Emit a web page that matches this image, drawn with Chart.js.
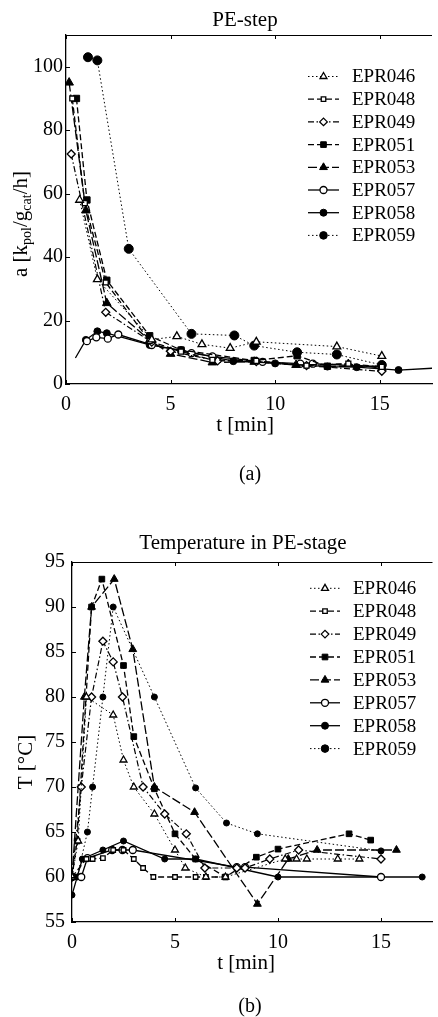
<!DOCTYPE html>
<html><head><meta charset="utf-8">
<script src="https://cdn.jsdelivr.net/npm/chart.js@4"></script>
<style>
html,body{margin:0;padding:0;background:#fff;overflow:hidden;width:438px;height:1017px}
.box{position:absolute;left:0;width:438px}
</style></head><body>
<div class="box" style="top:0;height:495px"><canvas id="ca"></canvas></div>
<div class="box" style="top:495px;height:522px"><canvas id="cb"></canvas></div>
<script>
// ---------- DATA ----------
const seriesNames = ['EPR046','EPR048','EPR049','EPR051','EPR053','EPR057','EPR058','EPR059'];
const xTicksMin = 0, xTicksMax = 17.5, xStep = 5;

// (a) PE-step: a [kpol/gcat/h] vs t [min]
const a046_t = [0.65, 1.5, 4.1, 5.3, 6.5, 7.85, 9.1, 12.95, 15.1];
const a046_v = [58, 33, 14, 15, 12.5, 11.3, 13.3, 11.8, 8.8];
const a048_t = [0.3, 0.9, 1.9, 4.0, 5.5, 7.0, 9.1, 11.5, 13.5, 15.1];
const a048_v = [90, 57, 32, 13.5, 10.2, 7.6, 7.3, 5.8, 6.4, 5.4];
const a049_t = [0.25, 1.9, 4.1, 5.0, 7.25, 9.1, 11.5, 15.1];
const a049_v = [72.5, 22.6, 13.2, 10.3, 7.3, 7.1, 5.8, 4.0];
const a051_t = [0.5, 1.0, 1.95, 4.0, 5.5, 9.0, 11.05, 12.5, 15.1];
const a051_v = [90, 58, 32.7, 15.2, 10.7, 7.4, 8.9, 5.6, 5.6];
const a053_t = [0.15, 0.95, 1.95, 4.0, 5.0, 7.0, 9.0, 11.0, 13.5, 15.1];
const a053_v = [95, 54.7, 25.5, 13.8, 9.5, 6.8, 7.0, 6.0, 6.3, 5.0];
const a057_t = [1.0, 1.45, 2.0, 2.5, 4.1, 6.0, 7.0, 9.4, 11.2, 11.8, 15.1];
const a057_v = [13.5, 14.7, 14.3, 15.6, 12.3, 9.7, 8.7, 7.0, 6.4, 6.4, 5.3];
const a058_t = [0.45, 0.95, 1.5, 1.95, 4.0, 5.5, 8.0, 10.0, 12.5, 13.9, 15.9, 17.6];
const a058_v = [8.2, 13.9, 16.6, 16.0, 12.3, 10.7, 7.2, 6.5, 5.5, 5.3, 4.4, 5.0];
const a059_t = [1.05, 1.5, 3.0, 6.0, 8.05, 9.0, 11.05, 12.95, 15.1];
const a059_v = [103, 102, 42.6, 15.8, 15.3, 12.1, 10.0, 9.3, 6.0];
const aYMin = 0, aYMax = 110, aYStep = 20;

// (b) Temperature in PE-stage: T [°C] vs t [min]
const b046_t = [0, 0.3, 0.7, 2.0, 2.5, 3.0, 4.0, 5.0, 5.5, 6.5, 7.45, 10.35, 10.9, 11.4, 12.9, 13.95];
const b046_v = [60, 64, 80, 78, 73, 70, 67, 63, 61, 60, 60, 62, 62, 62, 62, 62];
const b048_t = [0, 0.7, 1.0, 1.5, 2.0, 2.5, 3.0, 3.45, 3.95, 5.0, 6.0, 6.5, 7.45];
const b048_v = [60, 62, 62, 62.1, 63, 63, 62, 61, 60, 60, 60, 60, 60];
const b049_t = [0, 0.45, 0.95, 1.5, 2.0, 2.45, 3.45, 4.5, 5.55, 6.45, 8.0, 8.4, 9.6, 11.0, 15.0];
const b049_v = [60, 70, 80, 86.2, 83.9, 80, 70, 67, 64.8, 61, 61, 61, 62, 63, 62];
const b051_t = [0, 0.25, 0.95, 1.45, 2.5, 3.0, 4.0, 5.0, 6.0, 7.45, 8.95, 10.0, 13.45, 14.5];
const b051_v = [60, 64, 90, 93.1, 83.5, 75.6, 69.8, 64.8, 62, 60, 62.2, 63.1, 64.8, 64.1];
const b053_t = [0, 0.6, 0.95, 2.05, 2.95, 4.0, 5.95, 9.0, 10.5, 11.9, 15.75];
const b053_v = [60, 80, 90, 93.1, 85.3, 70, 67.2, 57, 62, 63, 63];
const b057_t = [0, 0.45, 0.75, 1.95, 2.45, 2.95, 8.0, 8.4, 15.0];
const b057_v = [60, 60, 62.1, 63, 63, 63, 61.1, 61.1, 60];
const b058_t = [0, 0.5, 1.5, 2.5, 4.5, 6.0, 10.0, 17.0];
const b058_v = [58, 62, 63, 64, 62, 62, 60, 60];
const b059_t = [0, 0.25, 0.75, 1.0, 1.5, 2.0, 4.0, 6.0, 7.5, 9.0, 15.0];
const b059_v = [60, 60, 65, 70, 80, 90, 80, 69.9, 66, 64.8, 62.9];
const bYMin = 55, bYMax = 95, bYStep = 5;

// ---------- STYLES ----------
const styles = {
  EPR046:{borderDash:[1.5,2.5], borderWidth:1, pointStyle:'triangle', pointRadius:4.5, pointBackgroundColor:'#fff', pointBorderWidth:1.3},
  EPR048:{borderDash:[6,3], borderWidth:1.3, pointStyle:'rect', pointRadius:3.5, pointBackgroundColor:'#fff', pointBorderWidth:1.3},
  EPR049:{borderDash:[6,2.5,1.5,2.5], borderWidth:1.2, pointStyle:'rectRot', pointRadius:4, pointBackgroundColor:'#fff', pointBorderWidth:1.3},
  EPR051:{borderDash:[6,3], borderWidth:1.3, pointStyle:'rect', pointRadius:4.5, pointBackgroundColor:'#000', pointBorderWidth:1},
  EPR053:{borderDash:[9,3], borderWidth:1.3, pointStyle:'triangle', pointRadius:5, pointBackgroundColor:'#000', pointBorderWidth:1},
  EPR057:{borderDash:[], borderWidth:1.3, pointStyle:'circle', pointRadius:3.5, pointBackgroundColor:'#fff', pointBorderWidth:1.3},
  EPR058:{borderDash:[], borderWidth:1.3, pointStyle:'circle', pointRadius:3.5, pointBackgroundColor:'#000', pointBorderWidth:1},
  EPR059:{borderDash:[1.5,2.5], borderWidth:1, pointStyle:'circle', pointRadius:4.5, pointBackgroundColor:'#000', pointBorderWidth:1}
};
const legendRadius = {EPR046:4, EPR048:3.2, EPR049:3.8, EPR051:4, EPR053:4.5, EPR057:3.5, EPR058:3.5, EPR059:3.8};
const FONT = 'Liberation Serif, Times New Roman, serif';

function ds(label, ts, vs, extra){
  return Object.assign({label, data: ts.map((t,i)=>({x:t, y:vs[i]})), showLine:true, tension:0,
    borderColor:'#000', pointBorderColor:'#000', fill:false}, styles[label], extra||{});
}

function decoPlugin(cfg){
  return {
    id:'deco',
    afterDraw(chart){
      const ctx = chart.ctx, ca = chart.chartArea, xs = chart.scales.x, ys = chart.scales.y;
      ctx.save();
      ctx.strokeStyle = '#000'; ctx.lineWidth = 1.2; ctx.setLineDash([]);
      ctx.beginPath(); ctx.moveTo(ca.left, ca.top + 0.5); ctx.lineTo(ca.right, ca.top + 0.5); ctx.stroke();
      ctx.lineWidth = 1;
      xs.ticks.forEach(t => {
        const x = Math.round(xs.getPixelForValue(t.value)) + 0.5;
        ctx.beginPath(); ctx.moveTo(x, ca.bottom); ctx.lineTo(x, ca.bottom - 4);
        ctx.moveTo(x, ca.top); ctx.lineTo(x, ca.top + 4); ctx.stroke();
      });
      ys.ticks.forEach(t => {
        const y = Math.round(ys.getPixelForValue(t.value)) + 0.5;
        ctx.beginPath(); ctx.moveTo(ca.left, y); ctx.lineTo(ca.left + 4, y); ctx.stroke();
      });
      ctx.fillStyle = '#000'; ctx.textAlign = 'center'; ctx.textBaseline = 'middle';
      ctx.font = '21px ' + FONT;
      ctx.fillText(cfg.title, cfg.titleX, cfg.titleY);
      ctx.fillText('t [min]', cfg.xtX, cfg.xtY);
      ctx.font = '20px ' + FONT;
      ctx.fillText(cfg.panel, cfg.panelX, cfg.panelY);
      // y title with subscripts, rotated
      ctx.save();
      ctx.translate(cfg.ytX, cfg.ytY);
      ctx.rotate(-Math.PI/2);
      ctx.textAlign = 'left'; ctx.textBaseline = 'alphabetic';
      let w = 0;
      cfg.ytParts.forEach(p => { ctx.font = (p.sub ? '14px ' : '21px ') + FONT; w += ctx.measureText(p.s).width; });
      let x = -w/2;
      cfg.ytParts.forEach(p => {
        ctx.font = (p.sub ? '14px ' : '21px ') + FONT;
        ctx.fillText(p.s, x, p.sub ? 11 : 7);
        x += ctx.measureText(p.s).width;
      });
      ctx.restore();
      // legend
      chart.data.datasets.forEach((d, i) => {
        const y = cfg.legY + i * cfg.legDy;
        const st = styles[d.label];
        ctx.save();
        ctx.strokeStyle = '#000'; ctx.lineWidth = st.borderWidth; ctx.setLineDash(st.borderDash || []);
        ctx.beginPath(); ctx.moveTo(cfg.legX1, y); ctx.lineTo(cfg.legX2, y); ctx.stroke();
        ctx.setLineDash([]);
        ctx.fillStyle = st.pointBackgroundColor; ctx.strokeStyle = '#000';
        ctx.lineWidth = st.pointBorderWidth || 1;
        Chart.helpers.drawPoint(ctx, {pointStyle:st.pointStyle, radius:legendRadius[d.label], rotation:0, borderWidth:st.pointBorderWidth||1}, (cfg.legX1 + cfg.legX2)/2, y);
        ctx.restore();
        ctx.fillStyle = '#000'; ctx.font = '19px ' + FONT; ctx.textAlign = 'left'; ctx.textBaseline = 'middle';
        ctx.fillText(d.label, cfg.legTX, y + 1);
      });
      ctx.restore();
    }
  };
}

function makeChart(id, datasets, cfg){
  const tickFont = {family:FONT, size:20};
  return new Chart(document.getElementById(id), {
    type:'scatter',
    data:{datasets},
    options:{
      responsive:true, maintainAspectRatio:false, animation:false,
      layout:{padding:{top:cfg.top, right:0, left:0, bottom:0}},
      plugins:{legend:{display:false}, tooltip:{enabled:false}, title:{display:false}},
      scales:{
        x:{type:'linear', min:xTicksMin, max:xTicksMax,
           afterFit:s => { s.height = cfg.xh; },
           ticks:{stepSize:xStep, includeBounds:false, padding:cfg.xpad, color:'#000', font:tickFont, maxRotation:0, autoSkip:false},
           grid:{display:true, drawOnChartArea:false, drawTicks:false},
           border:{color:'#000', width:1.3}},
        y:{type:'linear', min:cfg.ymin, max:cfg.ymax,
           afterFit:s => { s.width = cfg.yw; },
           ticks:{stepSize:cfg.ystep, includeBounds:false, padding:cfg.ypad, color:'#000', font:tickFont, autoSkip:false},
           grid:{display:true, drawOnChartArea:false, drawTicks:false},
           border:{color:'#000', width:1.3}}
      }
    },
    plugins:[decoPlugin(cfg.deco)]
  });
}

const dsA = [
  ds('EPR046', a046_t, a046_v),
  ds('EPR048', a048_t, a048_v),
  ds('EPR049', a049_t, a049_v),
  ds('EPR051', a051_t, a051_v),
  ds('EPR053', a053_t, a053_v),
  ds('EPR057', a057_t, a057_v),
  ds('EPR058', a058_t, a058_v, {pointRadius: c => (c.dataIndex === 0 || c.dataIndex === a058_t.length - 1) ? 0 : 3.5}),
  ds('EPR059', a059_t, a059_v)
];
const dsB = [
  ds('EPR046', b046_t, b046_v, {pointRadius:4}),
  ds('EPR048', b048_t, b048_v, {pointRadius:3.2}),
  ds('EPR049', b049_t, b049_v),
  ds('EPR051', b051_t, b051_v, {pointRadius:4}),
  ds('EPR053', b053_t, b053_v, {pointRadius:4.5}),
  ds('EPR057', b057_t, b057_v),
  ds('EPR058', b058_t, b058_v, {pointRadius:3}),
  ds('EPR059', b059_t, b059_v, {pointRadius:3})
];

makeChart('ca', dsA, {top:35, xh:111, xpad:9, yw:66, ypad:3, ymin:aYMin, ymax:aYMax, ystep:aYStep,
  deco:{title:'PE-step', titleX:245, titleY:20, xtX:245, xtY:425, panel:'(a)', panelX:250, panelY:475,
        ytX:20, ytY:224, ytParts:[{s:'a [k'},{s:'pol',sub:true},{s:'/g'},{s:'cat',sub:true},{s:'/h]'}],
        legY:76.5, legDy:22.7, legX1:308, legX2:339, legTX:352}});
makeChart('cb', dsB, {top:67, xh:95, xpad:9, yw:72, ypad:7, ymin:bYMin, ymax:bYMax, ystep:bYStep,
  deco:{title:'Temperature in PE-stage', titleX:243, titleY:48, xtX:246, xtY:468, panel:'(b)', panelX:250, panelY:512,
        ytX:25, ytY:267, ytParts:[{s:'T [°C]'}],
        legY:93.3, legDy:22.9, legX1:310, legX2:340, legTX:353}});
</script>
</body></html>
